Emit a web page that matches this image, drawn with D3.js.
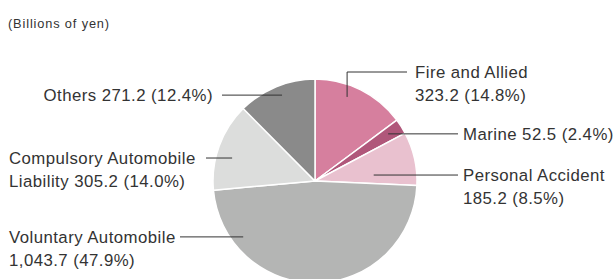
<!DOCTYPE html>
<html>
<head>
<meta charset="utf-8">
<script src="https://cdn.jsdelivr.net/npm/d3@7"></script>
<style>
  body { margin: 0; background: #fff; }
  svg { display: block; font-family: "Liberation Sans", Arial, sans-serif; }
</style>
</head>
<body>
<svg id="chart" width="615" height="279"></svg>
<script>
// data (billions of yen), clockwise from 12 o'clock
const categories = ['Fire and Allied', 'Marine', 'Personal Accident', 'Voluntary Automobile', 'Compulsory Automobile Liability', 'Others']
const values = [323.2, 52.5, 185.2, 1043.7, 305.2, 271.2]
const shares = [14.8, 2.4, 8.5, 47.9, 14.0, 12.4]
const labelLines = [
  ['Fire and Allied', '323.2 (14.8%)'],
  ['Marine 52.5 (2.4%)'],
  ['Personal Accident', '185.2 (8.5%)'],
  ['Voluntary Automobile', '1,043.7 (47.9%)'],
  ['Compulsory Automobile', 'Liability 305.2 (14.0%)'],
  ['Others 271.2 (12.4%)'],
]
const colors = ['#d67f9e', '#b0577a', '#e9c1cf', '#b4b5b4', '#dcdddc', '#8a8a8a']

// label layout: leader start (deg clockwise from top, radius px), line y, line end x, text x, anchor
const layout = [
  { a: 20.9, r: 90, elbowY: 72, endX: 407, tx: 415, anchor: 'start' },
  { a: 57.2, r: 87, elbowY: null, endX: 458, tx: 463, anchor: 'start' },
  { a: 84.2, r: 59, elbowY: null, endX: 458, tx: 463, anchor: 'start' },
  { a: 232.1, r: 91, elbowY: null, endX: 180, tx: 9, anchor: 'start' },
  { a: 285.5, r: 86, elbowY: null, endX: 206, tx: 9, anchor: 'start' },
  { a: 339, r: 92, elbowY: null, endX: 222, tx: 213, anchor: 'end' },
]

const cx = 315, cy = 181, R = 102
const lineH = 23.5

const svg = d3.select('#chart')

svg.append('text')
  .attr('x', 8)
  .attr('y', 27.5)
  .attr('fill', '#333')
  .attr('font-size', 12.8)
  .attr('letter-spacing', 0.85)
  .text('(Billions of yen)')

const pie = d3.pie().sort(null).value((d) => d)
const arcs = pie(values)
const arc = d3.arc().innerRadius(0).outerRadius(R)

const g = svg.append('g').attr('transform', `translate(${cx},${cy})`)

g.selectAll('path')
  .data(arcs)
  .join('path')
  .attr('d', arc)
  .attr('fill', (d, i) => colors[i])
  .attr('stroke', '#fff')
  .attr('stroke-width', 1.5)
  .attr('stroke-linejoin', 'round')

// leader lines
const polar = (deg, r) => {
  const t = (deg * Math.PI) / 180
  return [cx + r * Math.sin(t), cy - r * Math.cos(t)]
}

const labels = svg.append('g')

layout.forEach((l, i) => {
  const [x0, y0] = polar(l.a, l.r)
  let pts
  if (l.elbowY != null) {
    pts = [[x0, y0], [x0, l.elbowY], [l.endX, l.elbowY]]
  } else {
    pts = [[x0, y0], [l.endX, y0]]
  }
  labels.append('path')
    .attr('d', d3.line()(pts))
    .attr('fill', 'none')
    .attr('stroke', '#333')
    .attr('stroke-width', 1)

  const ty = l.elbowY != null ? l.elbowY : y0
  const t = labels.append('text')
    .attr('fill', '#333')
    .attr('font-size', 16.8)
    .attr('letter-spacing', 0.45)
    .attr('text-anchor', l.anchor)
  t.selectAll('tspan')
    .data(labelLines[i])
    .join('tspan')
    .attr('x', l.tx)
    .attr('y', (d, j) => ty + j * lineH)
    .attr('dy', '0.35em')
    .text((d) => d)
})
</script>
</body>
</html>
